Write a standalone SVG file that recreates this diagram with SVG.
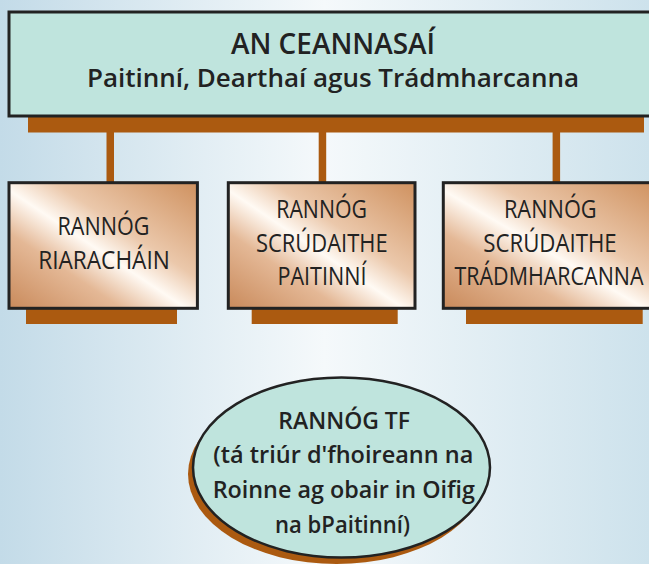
<svg xmlns="http://www.w3.org/2000/svg" width="649" height="564" viewBox="0 0 649 564">
  <defs>
    <linearGradient id="bg" x1="0" y1="0" x2="1" y2="0">
      <stop offset="0" stop-color="#c3dbe8"/>
      <stop offset="0.5" stop-color="#f5f9fb"/>
      <stop offset="1" stop-color="#cde2ec"/>
    </linearGradient>
    <linearGradient id="copper" x1="0" y1="1" x2="1" y2="0">
      <stop offset="0" stop-color="#c98a5b"/>
      <stop offset="0.3" stop-color="#e4b896"/>
      <stop offset="0.47" stop-color="#fffaf4"/>
      <stop offset="0.62" stop-color="#ebc8ab"/>
      <stop offset="1" stop-color="#cf915f"/>
    </linearGradient>
    <style>
      .bar { fill: #ab5a10; }
      .head { fill: #bfe4dd; stroke: #222; stroke-width: 3; }
      .box { fill: url(#copper); stroke: #222; stroke-width: 3; }
      .tb { font-family: "Open Sans", "Liberation Sans", sans-serif; font-weight: 600; fill: #222; text-anchor: middle; }
      .tr { font-family: "Open Sans", "Liberation Sans", sans-serif; font-weight: 400; fill: #222; text-anchor: middle; font-size: 25px; }
    </style>
  </defs>

  <rect x="0" y="0" width="649" height="564" fill="url(#bg)"/>

  <g id="connectors">
    <rect class="bar" x="28" y="116" width="616" height="16.5"/>
    <rect class="bar" x="106.5" y="131" width="7.5" height="52"/>
    <rect class="bar" x="318.7" y="131" width="7.5" height="52"/>
    <rect class="bar" x="552.6" y="131" width="7.5" height="52"/>
  </g>

  <g id="head">
    <rect class="head" x="9" y="12" width="660" height="104"/>
    <text class="tb" x="333" y="54" font-size="28" textLength="204" lengthAdjust="spacingAndGlyphs">AN CEANNASAÍ</text>
    <text class="tb" x="333" y="87.3" font-size="24.5" textLength="492" lengthAdjust="spacingAndGlyphs">Paitinní, Dearthaí agus Trádmharcanna</text>
  </g>

  <g id="riarachain">
    <rect class="bar" x="26" y="308" width="151" height="16"/>
    <rect class="box" x="9" y="182.7" width="188.4" height="125.6"/>
    <text class="tr" x="103.5" y="235" textLength="92" lengthAdjust="spacingAndGlyphs">RANNÓG</text>
    <text class="tr" x="104" y="269" textLength="131.7" lengthAdjust="spacingAndGlyphs">RIARACHÁIN</text>
  </g>

  <g id="paitinni">
    <rect class="bar" x="251.7" y="308" width="146" height="16"/>
    <rect class="box" x="228.3" y="182.7" width="186.7" height="125.6"/>
    <text class="tr" x="321.6" y="218.3" textLength="90.7" lengthAdjust="spacingAndGlyphs">RANNÓG</text>
    <text class="tr" x="321.8" y="251.7" textLength="131.7" lengthAdjust="spacingAndGlyphs">SCRÚDAITHE</text>
    <text class="tr" x="322" y="285" textLength="89" lengthAdjust="spacingAndGlyphs">PAITINNÍ</text>
  </g>

  <g id="tradmharcanna">
    <rect class="bar" x="466" y="308" width="176.7" height="16"/>
    <rect class="box" x="443.3" y="182.7" width="214" height="125.6"/>
    <text class="tr" x="550.3" y="218.3" textLength="92.7" lengthAdjust="spacingAndGlyphs">RANNÓG</text>
    <text class="tr" x="550" y="251.7" textLength="133.4" lengthAdjust="spacingAndGlyphs">SCRÚDAITHE</text>
    <text class="tr" x="549" y="285" textLength="189" lengthAdjust="spacingAndGlyphs">TRÁDMHARCANNA</text>
  </g>

  <g id="tf">
    <ellipse cx="336.5" cy="474" rx="148.5" ry="90" fill="#ab5a10"/>
    <ellipse cx="341.5" cy="467.5" rx="148.5" ry="90" fill="#bfe4dd" stroke="#222" stroke-width="2.5"/>
    <text class="tb" x="344.2" y="429.3" font-size="23.5" textLength="131.7" lengthAdjust="spacingAndGlyphs">RANNÓG TF</text>
    <text class="tb" x="343.3" y="463.3" font-size="23.5" textLength="260" lengthAdjust="spacingAndGlyphs">(tá triúr d'fhoireann na</text>
    <text class="tb" x="343.8" y="498.3" font-size="23.5" textLength="262.3" lengthAdjust="spacingAndGlyphs">Roinne ag obair in Oifig</text>
    <text class="tb" x="342.5" y="533.3" font-size="23.5" textLength="135" lengthAdjust="spacingAndGlyphs">na bPaitinní)</text>
  </g>
</svg>
